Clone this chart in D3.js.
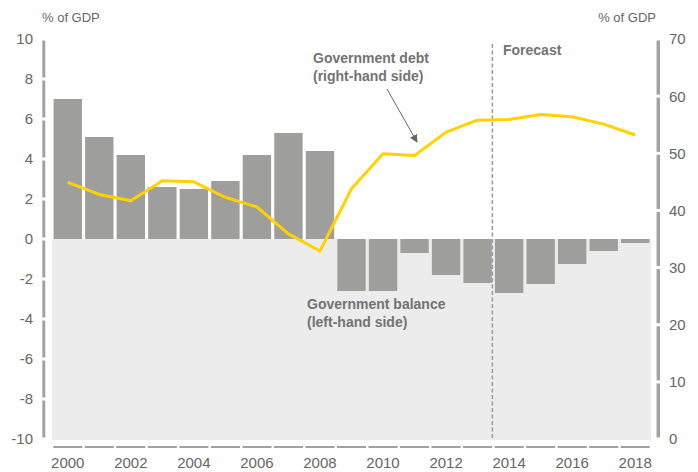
<!DOCTYPE html>
<html>
<head>
<meta charset="utf-8">
<script src="https://cdn.jsdelivr.net/npm/d3@7"></script>
<style>
  body { margin: 0; background: #fff; }
  text { font-family: "Liberation Sans", Arial, sans-serif; }
</style>
</head>
<body>
<svg id="chart" width="698" height="472"></svg>
<script>
// data
var years = [2000, 2001, 2002, 2003, 2004, 2005, 2006, 2007, 2008, 2009,
             2010, 2011, 2012, 2013, 2014, 2015, 2016, 2017, 2018];
var balance = [7.0, 5.1, 4.2, 2.6, 2.5, 2.9, 4.2, 5.3, 4.4, -2.6,
               -2.6, -0.7, -1.8, -2.2, -2.7, -2.25, -1.25, -0.6, -0.2];
var debt = [44.9, 42.8, 41.7, 45.2, 45.0, 42.3, 40.6, 35.9, 32.9, 43.8,
            49.9, 49.6, 53.7, 55.8, 55.9, 56.8, 56.4, 55.1, 53.2];
var leftTicks = [-10, -8, -6, -4, -2, 0, 2, 4, 6, 8, 10];
var rightTicks = [0, 10, 20, 30, 40, 50, 60, 70];
var yearLabels = [2000, 2002, 2004, 2006, 2008, 2010, 2012, 2014, 2016, 2018];
var forecastFrom = 2014;

var svg = d3.select("#chart");

var x = d3.scaleBand()
        .domain(years)
        .range([52, 651])
        .paddingInner(0.1)
        .paddingOuter(0.05);

var yLeft = d3.scaleLinear().domain([-10, 10]).range([439, 39]);
var yRight = d3.scaleLinear().domain([0, 70]).range([439, 39]);

var axisGrey = "#a2a2a2",
    textGrey = "#666",
    noteGrey = "#737373";

// shaded negative area
svg.append("rect")
    .attr("x", x.range()[0])
    .attr("y", yLeft(0))
    .attr("width", x.range()[1] - x.range()[0])
    .attr("height", yLeft(-10) - yLeft(0) + 1)
    .attr("fill", "#ececec");

// bars
svg.append("g").selectAll("rect")
    .data(years)
    .enter().append("rect")
    .attr("x", function(d) { return x(d); })
    .attr("width", x.bandwidth())
    .attr("y", function(d, i) { return yLeft(Math.max(0, balance[i])); })
    .attr("height", function(d, i) { return Math.abs(yLeft(balance[i]) - yLeft(0)); })
    .attr("fill", "#9e9e9c");

// forecast divider
var step = x.step(),
    divX = x(forecastFrom) - step * 0.05 - 1;
svg.append("line")
    .attr("x1", divX).attr("x2", divX)
    .attr("y1", 44).attr("y2", yLeft(-10) + 1)
    .attr("stroke", "#9a9a9a")
    .attr("stroke-width", 1.5)
    .attr("stroke-dasharray", "4,2.5");

svg.append("text")
    .attr("x", 503).attr("y", 55)
    .attr("fill", noteGrey)
    .attr("font-size", 14)
    .attr("font-weight", "bold")
    .text("Forecast");

// debt line
var line = d3.line()
        .x(function(d, i) { return x(years[i]) + x.bandwidth() / 2; })
        .y(function(d) { return yRight(d); });

svg.append("path")
    .datum(debt)
    .attr("d", line)
    .attr("fill", "none")
    .attr("stroke", "#ffd200")
    .attr("stroke-width", 3)
    .attr("stroke-linejoin", "round");

// left axis: segmented bar between ticks
function segAxis(scale, ticks, xPos, w) {
    for (var i = 0; i < ticks.length - 1; i++) {
        svg.append("line")
            .attr("x1", xPos).attr("x2", xPos)
            .attr("y1", scale(ticks[i]) - 1.5)
            .attr("y2", scale(ticks[i + 1]) + 1.5)
            .attr("stroke", axisGrey)
            .attr("stroke-width", w);
    }
}
segAxis(yLeft, leftTicks, 43.8, 3);
segAxis(yRight, rightTicks, 658.3, 3.5);

svg.append("g").selectAll("text")
    .data(leftTicks)
    .enter().append("text")
    .attr("x", 33)
    .attr("y", function(d) { return yLeft(d); })
    .attr("dy", "0.36em")
    .attr("text-anchor", "end")
    .attr("fill", textGrey)
    .attr("font-size", 15)
    .text(function(d) { return d; });

svg.append("g").selectAll("text")
    .data(rightTicks)
    .enter().append("text")
    .attr("x", 669)
    .attr("y", function(d) { return yRight(d); })
    .attr("dy", "0.36em")
    .attr("fill", textGrey)
    .attr("font-size", 15)
    .text(function(d) { return d; });

// bottom axis: one dash per year
svg.append("g").selectAll("line")
    .data(years)
    .enter().append("line")
    .attr("x1", function(d) { return x(d) - step * 0.05 + 1.2; })
    .attr("x2", function(d) { return x(d) + x.bandwidth() + step * 0.05 - 1.2; })
    .attr("y1", 447).attr("y2", 447)
    .attr("stroke", axisGrey)
    .attr("stroke-width", 2);

svg.append("g").selectAll("text")
    .data(yearLabels)
    .enter().append("text")
    .attr("x", function(d) { return x(d) + x.bandwidth() / 2; })
    .attr("y", 468)
    .attr("text-anchor", "middle")
    .attr("fill", textGrey)
    .attr("font-size", 15)
    .text(function(d) { return d; });

// unit labels
svg.append("text")
    .attr("x", 42).attr("y", 22)
    .attr("fill", textGrey)
    .attr("font-size", 13)
    .text("% of GDP");

svg.append("text")
    .attr("x", 656).attr("y", 22)
    .attr("text-anchor", "end")
    .attr("fill", textGrey)
    .attr("font-size", 13)
    .text("% of GDP");

// annotations
function note(xPos, yPos, lines) {
    var t = svg.append("text")
            .attr("fill", noteGrey)
            .attr("font-size", 14)
            .attr("font-weight", "bold");
    lines.forEach(function(s, i) {
        t.append("tspan")
            .attr("x", xPos)
            .attr("y", yPos + i * 18)
            .text(s);
    });
}
note(313, 63, ["Government debt", "(right-hand side)"]);
note(307, 309, ["Government balance", "(left-hand side)"]);

svg.append("defs").append("marker")
    .attr("id", "arrow")
    .attr("viewBox", "0 0 10 10")
    .attr("refX", 9).attr("refY", 5)
    .attr("markerWidth", 8).attr("markerHeight", 8)
    .attr("markerUnits", "userSpaceOnUse")
    .attr("orient", "auto")
    .append("path")
    .attr("d", "M0,0L10,5L0,10z")
    .attr("fill", "#666");

svg.append("line")
    .attr("x1", 387).attr("y1", 89)
    .attr("x2", 417).attr("y2", 142)
    .attr("stroke", "#666")
    .attr("stroke-width", 1)
    .attr("marker-end", "url(#arrow)");
</script>
</body>
</html>
